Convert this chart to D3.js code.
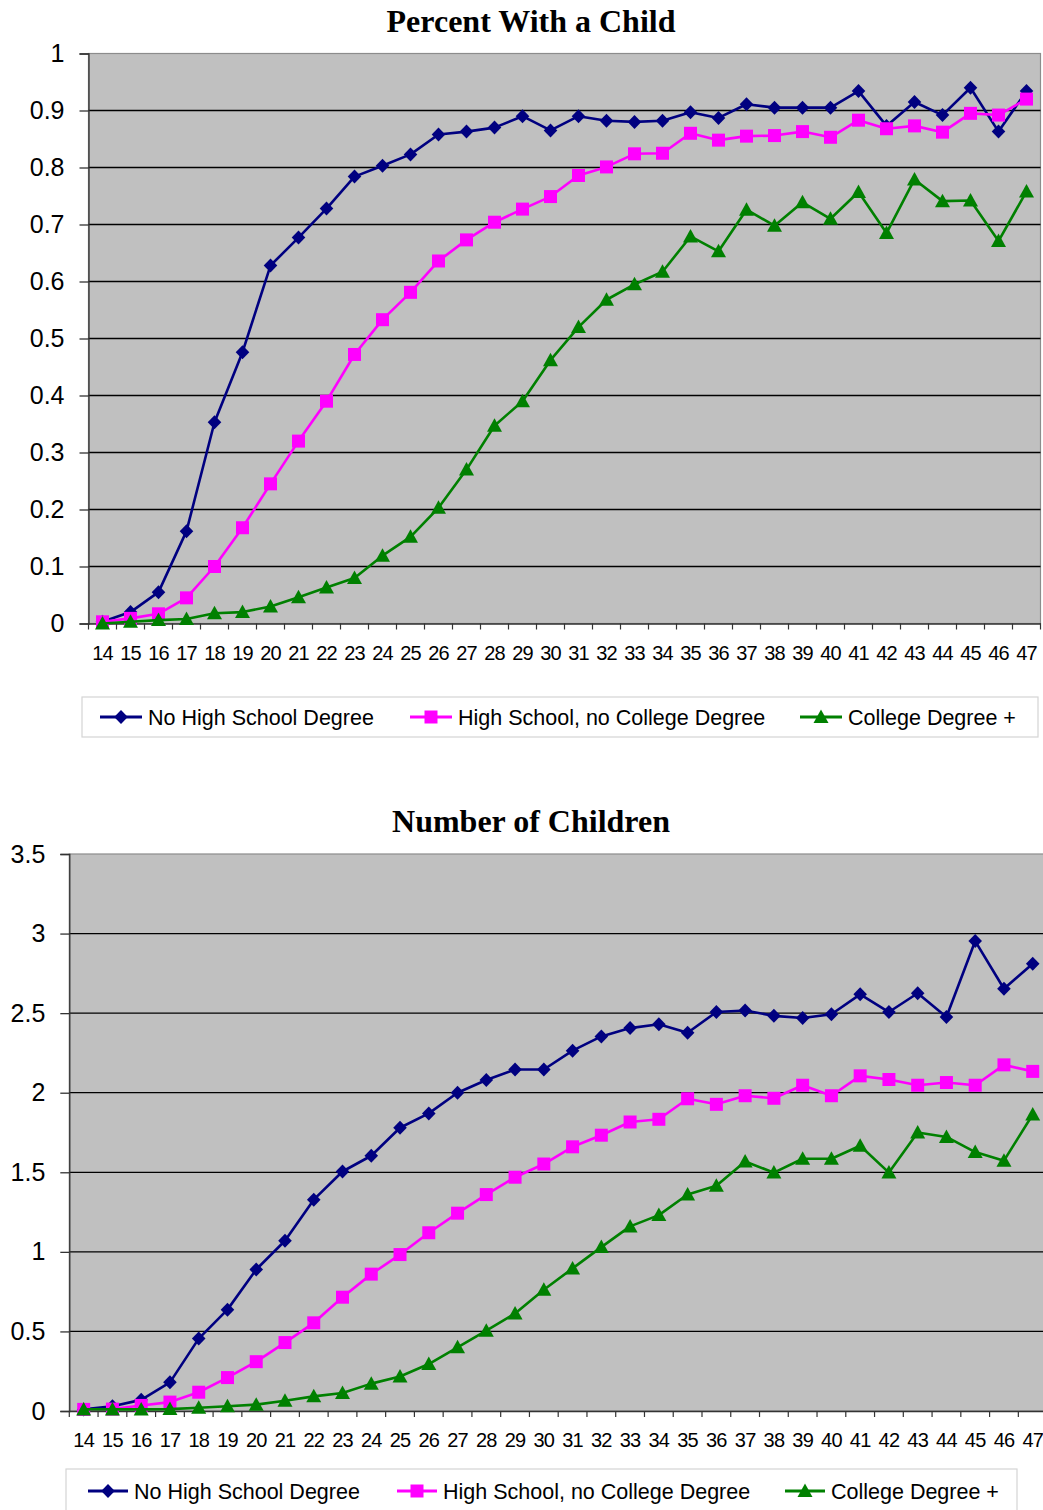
<!DOCTYPE html>
<html><head><meta charset="utf-8">
<script src="https://cdn.jsdelivr.net/npm/d3@7"></script>
<style>
html,body{margin:0;padding:0;background:#fff;}
svg{display:block;}
text{font-family:Arial,"Liberation Sans",sans-serif;}
</style></head>
<body>
<svg id="c" width="1043" height="1510"></svg>
<script>
const ages = ["14","15","16","17","18","19","20","21","22","23","24","25","26","27","28","29","30","31","32","33","34","35","36","37","38","39","40","41","42","43","44","45","46","47"];
const seriesNames = ["No High School Degree","High School, no College Degree","College Degree +"];

// Chart 1: Percent With a Child
const pctNoHS = [0.003,0.02,0.055,0.162,0.353,0.476,0.628,0.677,0.728,0.784,0.803,0.823,0.858,0.863,0.87,0.89,0.865,0.89,0.882,0.88,0.882,0.897,0.887,0.911,0.905,0.905,0.905,0.934,0.873,0.915,0.892,0.94,0.863,0.934];
const pctHS = [0.003,0.009,0.017,0.045,0.1,0.168,0.245,0.32,0.39,0.472,0.533,0.581,0.636,0.673,0.704,0.727,0.749,0.786,0.801,0.824,0.825,0.86,0.848,0.855,0.856,0.863,0.853,0.883,0.868,0.873,0.862,0.895,0.892,0.92];
const pctCollege = [0,0.003,0.006,0.008,0.018,0.02,0.03,0.046,0.063,0.08,0.119,0.152,0.203,0.27,0.347,0.39,0.462,0.52,0.568,0.595,0.617,0.679,0.653,0.726,0.698,0.739,0.71,0.757,0.685,0.779,0.741,0.742,0.671,0.758];
const pctTicks = [0,0.1,0.2,0.3,0.4,0.5,0.6,0.7,0.8,0.9,1];

// Chart 2: Number of Children
const numNoHS = [0.01,0.03,0.07,0.18,0.455,0.637,0.889,1.07,1.328,1.505,1.604,1.78,1.87,2.0,2.08,2.146,2.146,2.264,2.354,2.406,2.43,2.377,2.507,2.517,2.483,2.469,2.493,2.618,2.507,2.625,2.476,2.953,2.653,2.811];
const numHS = [0.01,0.012,0.035,0.056,0.118,0.21,0.31,0.43,0.554,0.715,0.86,0.983,1.12,1.243,1.36,1.469,1.552,1.66,1.733,1.816,1.833,1.962,1.927,1.981,1.965,2.047,1.981,2.106,2.083,2.047,2.064,2.047,2.175,2.134];
const numCollege = [0.01,0.01,0.01,0.012,0.02,0.03,0.04,0.064,0.092,0.113,0.172,0.217,0.295,0.4,0.505,0.613,0.762,0.896,1.03,1.16,1.231,1.36,1.415,1.568,1.498,1.585,1.585,1.667,1.498,1.75,1.722,1.627,1.573,1.863];
const numTicks = [0,0.5,1,1.5,2,2.5,3,3.5];

const colors = ["#000080","#FF00FF","#008000"];
const markerKinds = ["diamond","square","triangle"];

const svg = d3.select("#c");

function markerPath(kind){
  if(kind==="diamond") return "M0,-7L6.8,0L0,7L-6.8,0Z";
  if(kind==="square") return "M-6.5,-6.5H6.5V6.5H-6.5Z";
  return "M0,-7.5L7.5,6L-7.5,6Z";
}

function drawChart(o){
  const g = svg.append("g");
  const x = d3.scaleBand().domain(ages).range([o.left, o.left+o.width]).padding(0);
  const y = d3.scaleLinear().domain([0, o.ymax]).range([o.top+o.height, o.top]);

  // title
  g.append("text").attr("x", o.titleX).attr("y", o.titleY)
    .attr("text-anchor","middle")
    .style("font-family","'Times New Roman','Liberation Serif',serif")
    .style("font-weight","bold").style("font-size","32px")
    .text(o.title);

  // plot background
  g.append("rect").attr("x",o.left).attr("y",o.top).attr("width",o.width).attr("height",o.height)
    .attr("fill","#C0C0C0").attr("stroke","#8c8c8c").attr("stroke-width",1.2);

  // gridlines
  g.append("g").selectAll("line").data(o.ticks.filter(t=>t>0 && t<o.ymax)).join("line")
    .attr("x1",o.left).attr("x2",o.left+o.width)
    .attr("y1",d=>y(d)).attr("y2",d=>y(d))
    .attr("stroke","#000").attr("stroke-width",1.3);

  // y axis
  const ya = g.append("g").attr("transform",`translate(${o.left},0)`)
    .call(d3.axisLeft(y).tickValues(o.ticks).tickSize(9).tickPadding(15).tickFormat(d=>String(d)));
  ya.select(".domain").attr("stroke","#333").attr("stroke-width",1.3);
  ya.selectAll(".tick line").attr("stroke","#333").attr("stroke-width",1.3);
  ya.selectAll(".tick text").style("font-size","25px").attr("fill","#000")
    .style("font-family","Arial,'Liberation Sans',sans-serif");

  // x axis
  const xa = g.append("g").attr("transform",`translate(0,${o.top+o.height})`)
    .call(d3.axisBottom(x).tickSize(0).tickPadding(22));
  xa.select(".domain").attr("stroke","#333").attr("stroke-width",1.3);
  xa.selectAll(".tick text").style("font-size","20px").attr("fill","#000")
    .style("font-family","Arial,'Liberation Sans',sans-serif").attr("letter-spacing","-0.8");
  // boundary ticks
  const bounds = ages.map(a=>x(a)).concat([o.left+o.width]);
  xa.append("g").selectAll("line").data(bounds).join("line")
    .attr("x1",d=>d).attr("x2",d=>d).attr("y1",0).attr("y2",6)
    .attr("stroke","#333").attr("stroke-width",1.2);

  // series
  const line = d3.line().x((d,i)=>x(ages[i])+x.bandwidth()/2).y(d=>y(d));
  o.series.forEach((s,k)=>{
    const sg = g.append("g");
    sg.append("path").datum(s).attr("d",line).attr("fill","none")
      .attr("stroke",colors[k]).attr("stroke-width",2.6).attr("stroke-linejoin","round");
    sg.selectAll("path.m").data(s).join("path").attr("class","m")
      .attr("transform",(d,i)=>`translate(${x(ages[i])+x.bandwidth()/2},${y(d)})`)
      .attr("d",markerPath(markerKinds[k])).attr("fill",colors[k]);
  });

  // legend
  const L = o.legend;
  g.append("rect").attr("x",L.x).attr("y",L.y).attr("width",L.w).attr("height",L.h)
    .attr("fill","#fff").attr("stroke","#d4d4d4").attr("stroke-width",1.2);
  seriesNames.forEach((n,k)=>{
    const lx = L.items[k], ly = L.cy;
    g.append("line").attr("x1",lx).attr("x2",lx+L.sw).attr("y1",ly).attr("y2",ly)
      .attr("stroke",colors[k]).attr("stroke-width",3);
    g.append("path").attr("transform",`translate(${lx+L.sw/2},${ly})`)
      .attr("d",markerPath(markerKinds[k])).attr("fill",colors[k]);
    g.append("text").attr("x",lx+L.sw+6).attr("y",ly).attr("dy","0.35em")
      .style("font-size","21.5px").attr("fill","#000").text(n);
  });
}

drawChart({
  title:"Percent With a Child", titleX:531, titleY:32,
  left:88.5, top:53.5, width:952, height:570, ymax:1, ticks:pctTicks,
  series:[pctNoHS,pctHS,pctCollege],
  legend:{x:82,y:697,w:956,h:40,cy:717,sw:42,items:[100,410,800]}
});
drawChart({
  title:"Number of Children", titleX:531, titleY:832,
  left:69.3, top:854, width:977.8, height:557, ymax:3.5, ticks:numTicks,
  series:[numNoHS,numHS,numCollege],
  legend:{x:66,y:1469,w:951,h:50,cy:1491,sw:40,items:[88,397,785]}
});
</script>
</body></html>
